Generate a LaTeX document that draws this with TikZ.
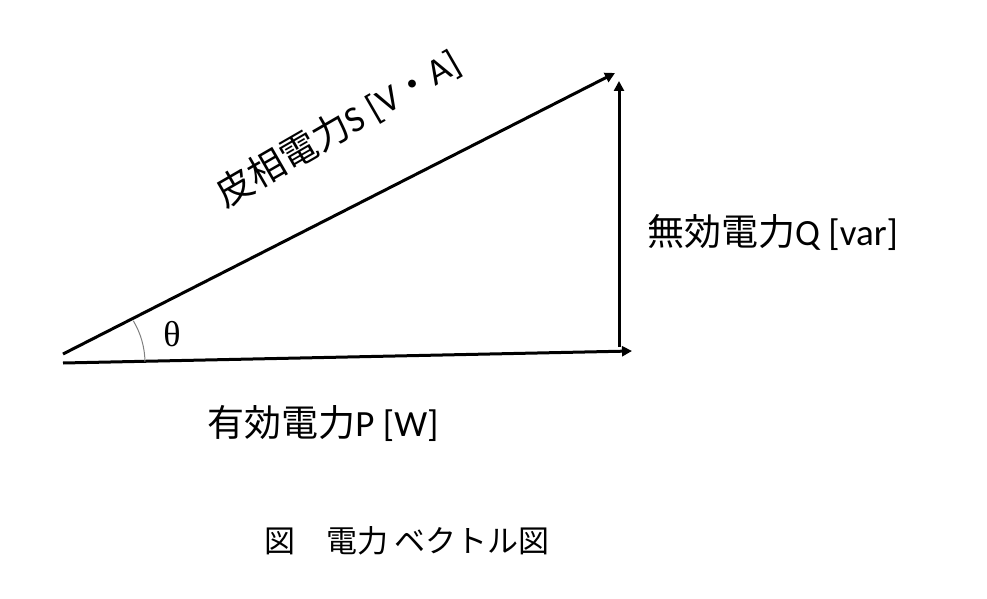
\documentclass[tikz,border=0pt]{standalone}
\usepackage{fontspec}
\setmainfont{Carlito}
\newfontfamily\jp{Noto Sans CJK JP}
\newfontfamily\greek{Liberation Serif}
\usetikzlibrary{arrows.meta, positioning}

\begin{document}
\begin{tikzpicture}[x=1pt, y=-1pt, node distance=20pt]
    \tikzstyle{vector} = [line width=3pt, -{Triangle[length=10pt,width=10pt]}]
    \tikzstyle{caption} = [inner sep=0pt, font=\fontsize{37}{44}\selectfont]
    \tikzstyle{figtitle} = [inner sep=0pt, font=\jp\fontsize{31}{37}\selectfont]
    \useasboundingbox (0,0) rectangle (987,599);

    \coordinate (sstart) at (63,354);
    \coordinate (stip) at (615,73);
    \coordinate (pstart) at (63,363);
    \coordinate (ptip) at (632,351);
    \coordinate (qfoot) at (619,347);
    \coordinate (qtip) at (619,81);

    % Vectors
    \draw [vector] (sstart) -- (stip);
    \draw [vector] (pstart) -- (ptip);
    \draw [vector] (qfoot) -- (qtip);

    % Angle
    \draw [gray, line width=1pt] (pstart) ++(-1:82) arc[start angle=-1, end angle=-31, radius=82];
    \node (theta) [font=\greek\fontsize{36}{42}\selectfont] at (172,334) {θ};

    \node (apparent) [caption, rotate=30] at (338,128) {{\jp 皮相電力}S [V{\jp ・}A]};
    \node (reactive) [caption, anchor=west] at (647,232) {{\jp 無効電力}Q [var]};
    \node (active) [caption] at (323,423) {{\jp 有効電力}P [W]};
    \node (title) [figtitle] at (407,541) {図　電力 ベクトル図};
\end{tikzpicture}
\end{document}
